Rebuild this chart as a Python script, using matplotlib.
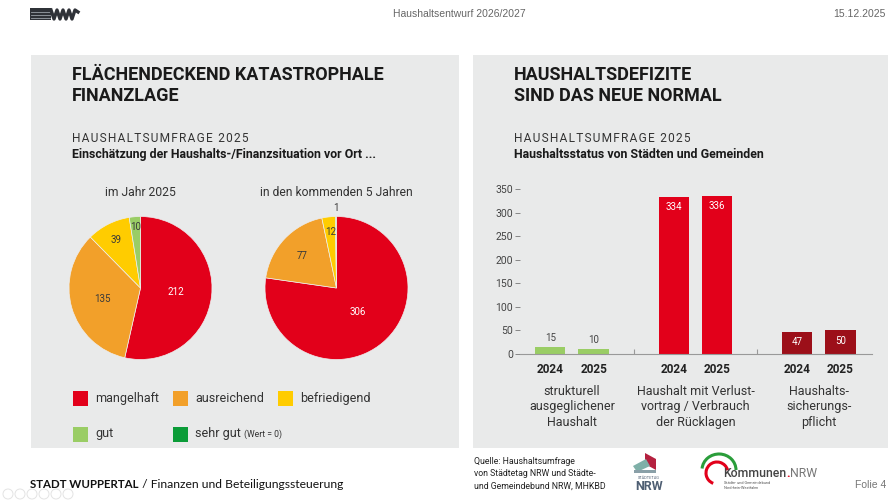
import matplotlib
matplotlib.use('Agg')
import matplotlib.pyplot as plt
from matplotlib.patches import Rectangle, Circle, Polygon, Arc
import numpy as np

# ---------------- data ----------------
pie_labels = ['mangelhaft', 'ausreichend', 'befriedigend', 'gut', 'sehr gut']
pie_2025 = [212, 135, 39, 10]
pie_next5 = [306, 77, 12, 1]
pie_titles = ['im Jahr 2025', 'in den kommenden 5 Jahren']

bar_groups = ['strukturell\nausgeglichener\nHaushalt',
              'Haushalt mit Verlust-\nvortrag / Verbrauch\nder Rücklagen',
              'Haushalts-\nsicherungs-\npflicht']
bar_years = ['2024', '2025']
bar_2024 = [15, 334, 47]
bar_2025 = [10, 336, 50]
y_ticks = [0, 50, 100, 150, 200, 250, 300, 350]

# ---------------- style ----------------
W, H = 888, 500
RED = '#e2001a'
ORANGE = '#f2a02a'
YELLOW = '#ffcc00'
LGREEN = '#9acd65'
DGREEN = '#0b9c38'
DARKRED = '#9c0f19'
PANEL = '#e9eaea'
FONT = ['Roboto', 'DejaVu Sans']
plt.rcParams['font.family'] = FONT

fig = plt.figure(figsize=(W / 100, H / 100), dpi=100)
fig.patch.set_facecolor('white')

# background overlay in pixel coords (y down)
bg = fig.add_axes([0, 0, 1, 1], zorder=-1)
bg.set_xlim(0, W)
bg.set_ylim(H, 0)
bg.axis('off')

# panels
bg.add_patch(Rectangle((31, 55), 459 - 31, 448 - 55, color=PANEL, lw=0))
bg.add_patch(Rectangle((473, 55), 888 - 473, 448 - 55, color=PANEL, lw=0))

# ---------------- header ----------------
bg.add_patch(Rectangle((30, 8), 21, 12, color='#2f3238', lw=0))
for yy in (11.5, 14.5, 17.5):
    bg.plot([31, 50], [yy, yy], color='#9aa0a8', lw=0.6)
bg.plot([51, 54, 57, 60, 63, 66, 69, 72, 75, 78],
        [10, 19, 10, 19, 10, 19, 10, 19, 10, 12], color='#2f3238', lw=2.4,
        solid_joinstyle='round')
bg.text(459, 14, 'Haushaltsentwurf 2026/2027', ha='center', va='center',
        fontsize=7.5, color='#666666', family=['Liberation Sans', 'DejaVu Sans'])
bg.text(886, 14, '15.12.2025', ha='right', va='center',
        fontsize=7.5, color='#666666', family=['Liberation Sans', 'DejaVu Sans'])

# ---------------- headings ----------------
def spaced(s):
    return '\u200a'.join(s)

for x0, l1, l2, sub in [(72, 'FLÄCHENDECKEND KATASTROPHALE', 'FINANZLAGE',
                         'Einschätzung der Haushalts-/Finanzsituation vor Ort ...'),
                        (514, 'HAUSHALTSDEFIZITE', 'SIND DAS NEUE NORMAL',
                         'Haushaltsstatus von Städten und Gemeinden')]:
    bg.text(x0, 80, l1, fontsize=13, fontweight='bold', color='#1a1a1a', va='baseline')
    bg.text(x0, 101, l2, fontsize=13, fontweight='bold', color='#1a1a1a', va='baseline')
    bg.text(x0, 142, spaced('HAUSHALTSUMFRAGE 2025'), fontsize=8.6, color='#333333', va='baseline')
    bg.text(x0, 158, sub, fontsize=8.9, fontweight='bold', color='#1a1a1a', va='baseline')

# ---------------- pies ----------------
colors = [RED, ORANGE, YELLOW, LGREEN]
pie_specs = [(140.5, 288, 71.5, pie_2025, [0.5, 0.55, 0.75, 0.86]),
             (336.5, 288, 71.5, pie_next5, [0.45, 0.66, 0.79, 1.12])]
for (cx, cy, r, vals, dists), title in zip(pie_specs, pie_titles):
    ax = fig.add_axes([(cx - r) / W, 1 - (cy + r) / H, 2 * r / W, 2 * r / H])
    ax.set_facecolor('none')
    wedges, _ = ax.pie(vals, colors=colors, startangle=90, counterclock=False,
                       radius=1, wedgeprops=dict(linewidth=0.5, edgecolor='#eeeeee'))
    for k, (w, v, d) in enumerate(zip(wedges, vals, dists)):
        ang = np.deg2rad((w.theta1 + w.theta2) / 2)
        c = 'white' if (k == 0 and d <= 1) else '#3a3a3a'
        ax.text(d * np.cos(ang), d * np.sin(ang), str(v), ha='center', va='center',
                fontsize=7, color=c)
    ax.set_xlim(-1, 1)
    ax.set_ylim(-1, 1)
    ax.set_aspect('equal')
    bg.text(cx, 193, title, ha='center', va='center', fontsize=8.7, color='#333333')

# legend
leg_items = [(73, 398.5, RED), (173, 398.5, ORANGE), (278, 398.5, YELLOW),
             (73, 434, LGREEN), (173, 434, DGREEN)]
for (x, y, c), name in zip(leg_items, pie_labels):
    bg.add_patch(Rectangle((x, y - 7.5), 15, 15, color=c, lw=0))
    t = bg.text(x + 22, y, name, va='center', fontsize=9, color='#333333')
    if name == 'sehr gut':
        fig.canvas.draw()
        bb = t.get_window_extent(renderer=fig.canvas.get_renderer())
        bg.text(bb.x1 + 3, y + 0.5, '(Wert = 0)', va='center', fontsize=6.2, color='#333333')

# ---------------- bar chart ----------------
axb = fig.add_axes([520 / W, 1 - 354 / H, (872 - 520) / W, (354 - 189) / H])
axb.set_facecolor('none')
gx = np.arange(len(bar_groups))
off, bw = 0.175, 0.245
bar_colors = [LGREEN, RED, DARKRED]
xt, xl = [], []
for i, (v1, v2) in enumerate(zip(bar_2024, bar_2025)):
    for j, v in enumerate([v1, v2]):
        xpos = gx[i] + (-off if j == 0 else off)
        axb.bar(xpos, v, width=bw, color=bar_colors[i], lw=0)
        xt.append(xpos)
        xl.append(bar_years[j])
        if i == 0:
            axb.annotate(str(v), (xpos, v), xytext=(0, 6.5), textcoords='offset points',
                         ha='center', va='center', fontsize=7, color='#444444')
        else:
            axb.annotate(str(v), (xpos, v), xytext=(0, -7.5), textcoords='offset points',
                         ha='center', va='center', fontsize=7, color='white')
axb.set_xlim(-0.421, 2.43)
axb.set_ylim(0, 350)
axb.set_yticks(y_ticks)
axb.tick_params(axis='y', length=3.6, width=0.6, color='#777777', pad=1.5,
                labelsize=7.5, labelcolor='#444444')
axb.set_xticks(xt)
axb.set_xticklabels(xl, fontweight='bold', fontsize=8.5, color='#222222')
axb.tick_params(axis='x', length=0, pad=6.5)
for s in ['left', 'right', 'top']:
    axb.spines[s].set_visible(False)
axb.spines['bottom'].set_color('#999999')
axb.spines['bottom'].set_linewidth(0.8)
axb.vlines([0.5, 1.5], 0, 11, color='#999999', lw=0.8)
for i, g in enumerate(bar_groups):
    axb.text(gx[i], -0.185, g, transform=axb.get_xaxis_transform(), ha='center', va='top',
             fontsize=9, color='#333333', linespacing=1.25)

# ---------------- footer ----------------
t = bg.text(30, 484, 'STADT WUPPERTAL', fontsize=8.3, fontweight='bold', color='#111111',
            va='center', family=['Lato', 'DejaVu Sans'])
fig.canvas.draw()
bb = t.get_window_extent(renderer=fig.canvas.get_renderer())
bg.text(bb.x1, 484, ' / Finanzen und Beteiligungssteuerung', fontsize=8.7, color='#111111',
        va='center', family=['Lato', 'DejaVu Sans'])
for cxn in [8, 20, 32, 44, 56, 68]:
    bg.add_patch(Circle((cxn, 494), 5, fill=False, ec='#e3e3e3', lw=0.7))

bg.text(474, 474, 'Quelle: Haushaltsumfrage\nvon Städtetag NRW und Städte-\nund Gemeindebund NRW, MHKBD',
        fontsize=6.3, color='#222222', va='center', linespacing=1.45)

# Städtetag NRW logo
bg.add_patch(Polygon([(645, 453), (656, 459), (656, 470), (645, 464)], color='#b5213f', lw=0))
bg.add_patch(Polygon([(633, 466), (646, 459), (650, 466), (637, 472)], color='#7fb0a8', lw=0))
bg.add_patch(Polygon([(634, 470), (656, 470), (656, 473), (634, 473)], color='#8aa0a8', lw=0))
bg.text(649, 478, 'STÄDTETAG', ha='center', va='center', fontsize=2.8, color='#4f5f73')
bg.text(649, 487, 'NRW', ha='center', va='center', fontsize=9, fontweight='bold', color='#4f5f73')

# Kommunen.NRW logo
bg.add_patch(Arc((719, 470), 34, 32, theta1=185, theta2=360, color='#2a9d3a', lw=2.2))
bg.add_patch(Arc((717, 473), 22, 22, theta1=110, theta2=345, color=RED, lw=2.2))
t = bg.text(723, 477, 'Kommunen', fontsize=8.8, color='#444444', va='baseline',
            fontweight='medium')
fig.canvas.draw()
bb = t.get_window_extent(renderer=fig.canvas.get_renderer())
t2 = bg.text(bb.x1, 477, '.', fontsize=8.8, color=RED, va='baseline', fontweight='bold')
fig.canvas.draw()
bb2 = t2.get_window_extent(renderer=fig.canvas.get_renderer())
bg.text(bb2.x1, 477, 'NRW', fontsize=8.8, color='#777777', va='baseline')
bg.text(724, 483, 'Städte- und Gemeindebund', fontsize=2.8, color='#555555', va='center')
bg.text(724, 488, 'Nordrhein-Westfalen', fontsize=2.8, color='#555555', va='center')

bg.text(886, 485, 'Folie 4', fontsize=7.5, color='#777777', va='center', ha='right',
        family=['Liberation Sans', 'DejaVu Sans'])

fig.savefig('out.png', dpi=100)
